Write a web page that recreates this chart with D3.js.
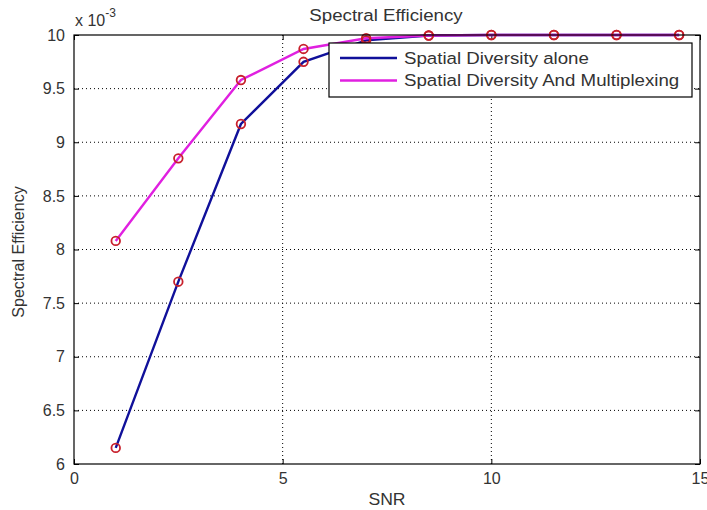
<!DOCTYPE html>
<html><head><meta charset="utf-8">
<script src="https://cdn.jsdelivr.net/npm/d3@7"></script>
<style>
body{margin:0;background:#fff;}
svg{display:block;font-family:"Liberation Sans",Arial,sans-serif;}
</style></head>
<body><svg id="c" width="707" height="510"></svg>
<script>
const snr = [1, 2.5, 4, 5.5, 7, 8.5, 10, 11.5, 13, 14.5];
const diversityAlone = [6.15, 7.70, 9.17, 9.75, 9.95, 9.995, 10.0, 10.0, 10.0, 10.0];
const diversityMux = [8.08, 8.85, 9.58, 9.87, 9.97, 9.995, 10.0, 10.0, 10.0, 10.0];
const seriesNames = ["Spatial Diversity alone", "Spatial Diversity And Multiplexing"];
const xTicks = [0, 5, 10, 15];
const yTicks = [6, 6.5, 7, 7.5, 8, 8.5, 9, 9.5, 10];
const yTickLabels = ["6", "6.5", "7", "7.5", "8", "8.5", "9", "9.5", "10"];

const svg = d3.select("#c");
const L = 74, R = 700, T = 35, B = 464;
const x = d3.scaleLinear().domain([0, 15]).range([L, R]);
const y = d3.scaleLinear().domain([6, 10]).range([B, T]);
const colors = ["#10109a", "#e020e0"];
const textCol = "#333";
const SX = 1.1;

// grid
const g = svg.append("g");
g.selectAll(".gx").data(xTicks.slice(1, -1)).enter().append("line")
  .attr("x1", d => x(d)).attr("x2", d => x(d)).attr("y1", T).attr("y2", B)
  .attr("stroke", "#000").attr("stroke-dasharray", "1,3");
g.selectAll(".gy").data(yTicks.slice(1, -1)).enter().append("line")
  .attr("y1", d => y(d)).attr("y2", d => y(d)).attr("x1", L).attr("x2", R)
  .attr("stroke", "#000").attr("stroke-dasharray", "1,3");

// axes with inner ticks
const axB = svg.append("g").attr("transform", `translate(0,${B})`)
  .call(d3.axisBottom(x).tickValues(xTicks).tickSizeInner(-5).tickSizeOuter(0).tickPadding(9));
const axT = svg.append("g").attr("transform", `translate(0,${T})`)
  .call(d3.axisTop(x).tickValues(xTicks).tickSizeInner(-5).tickSizeOuter(0).tickFormat(""));
const axLft = svg.append("g").attr("transform", `translate(${L},0)`)
  .call(d3.axisLeft(y).tickValues(yTicks).tickSizeInner(-5).tickSizeOuter(0).tickPadding(9)
    .tickFormat((d, i) => yTickLabels[i]));
const axRt = svg.append("g").attr("transform", `translate(${R},0)`)
  .call(d3.axisRight(y).tickValues(yTicks).tickSizeInner(-5).tickSizeOuter(0).tickFormat(""));
[axB, axT, axLft, axRt].forEach(a => {
  a.select(".domain").remove();
  a.selectAll("line").attr("stroke", "#000");
  a.selectAll("text").attr("font-size", 16).attr("fill", textCol)
    .attr("font-family", "Liberation Sans, Arial, sans-serif");
});
axB.selectAll("text").attr("dy", "0.71em");

// series
const data = [diversityAlone, diversityMux];
const line = d3.line().x((d, i) => x(snr[i])).y(d => y(d));
data.forEach((s, k) => {
  svg.append("path").datum(s).attr("d", line).attr("fill", "none")
    .attr("stroke", colors[k]).attr("stroke-width", 2.4);
});
data.forEach(s => {
  svg.selectAll(null).data(s).enter().append("circle")
    .attr("cx", (d, i) => x(snr[i])).attr("cy", d => y(d)).attr("r", 4.3)
    .attr("fill", "none").attr("stroke", "#c8202c").attr("stroke-width", 1.8);
});

// frame
svg.append("rect").attr("x", L).attr("y", T).attr("width", R - L).attr("height", B - T)
  .attr("fill", "none").attr("stroke", "#000").attr("stroke-width", 1.2);

// legend
const lg = svg.append("g");
lg.append("rect").attr("x", 329).attr("y", 43).attr("width", 363).attr("height", 54)
  .attr("fill", "#fff").attr("stroke", "#000").attr("stroke-width", 1.2);
seriesNames.forEach((n, k) => {
  const yy = 58 + k * 22.5;
  lg.append("line").attr("x1", 340).attr("x2", 397).attr("y1", yy).attr("y2", yy)
    .attr("stroke", colors[k]).attr("stroke-width", 2.4);
  lg.append("g").attr("transform", `translate(404,${yy}) scale(${SX},1)`)
    .append("text").attr("dy", "0.35em")
    .attr("font-size", 17).attr("fill", textCol).text(n);
});

// titles
svg.append("g").attr("transform", `translate(386,21) scale(${SX},1)`)
  .append("text").attr("text-anchor", "middle")
  .attr("font-size", 17).attr("fill", textCol).text("Spectral Efficiency");
svg.append("g").attr("transform", `translate(387,505) scale(${SX},1)`)
  .append("text").attr("text-anchor", "middle")
  .attr("font-size", 16).attr("fill", textCol).text("SNR");
svg.append("text").attr("transform", "translate(24,252) rotate(-90)")
  .attr("text-anchor", "middle").attr("font-size", 16).attr("fill", textCol)
  .text("Spectral Efficiency");
const ex = svg.append("text").attr("x", 75).attr("y", 26).attr("font-size", 16).attr("fill", textCol);
ex.append("tspan").text("x 10");
ex.append("tspan").attr("dy", -9).attr("font-size", 12).text("-3");
</script></body></html>
